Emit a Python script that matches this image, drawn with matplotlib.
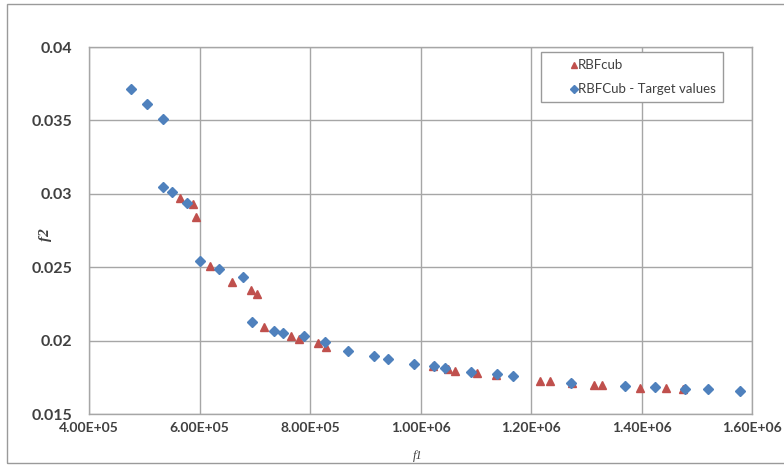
import matplotlib
matplotlib.use("Agg")
import matplotlib.pyplot as plt
from matplotlib.ticker import FuncFormatter, MultipleLocator
from matplotlib.lines import Line2D

# RBFcub results (f1, f2)
rbf_f1 = [565e3, 588e3, 593e3, 619e3, 658e3, 693e3, 704e3, 717e3, 765e3, 780e3,
          814e3, 829e3, 1022e3, 1049e3, 1063e3, 1103e3, 1136e3, 1217e3, 1234e3,
          1275e3, 1314e3, 1328e3, 1398e3, 1445e3, 1476e3]
rbf_f2 = [0.02973, 0.02928, 0.02844, 0.02508, 0.02397, 0.02345, 0.02315, 0.02091,
          0.02031, 0.02011, 0.01982, 0.01958, 0.01824, 0.01804, 0.01793, 0.01777,
          0.01765, 0.01725, 0.01725, 0.0171, 0.01697, 0.01697, 0.0168, 0.01674, 0.0167]

# Target values (f1, f2)
target_f1 = [476e3, 505e3, 534e3, 534e3, 550e3, 578e3, 601e3, 635e3, 679e3, 695e3,
             735e3, 752e3, 790e3, 827e3, 869e3, 915e3, 941e3, 988e3, 1025e3,
             1045e3, 1092e3, 1139e3, 1168e3, 1273e3, 1370e3, 1424e3, 1479e3,
             1520e3, 1578e3]
target_f2 = [0.03714, 0.03614, 0.03507, 0.03048, 0.0301, 0.02935, 0.02542, 0.02486,
             0.02431, 0.02125, 0.02065, 0.02054, 0.02031, 0.01992, 0.01931, 0.01897,
             0.01873, 0.01839, 0.01829, 0.01813, 0.01784, 0.0177, 0.01759, 0.01713,
             0.01691, 0.01687, 0.01672, 0.01667, 0.0166]

RED = "#C0504D"
BLUE = "#4F81BD"
GRID = "#A6A6A6"
TXT = "#404040"

fig = plt.figure(figsize=(7.84, 4.65), dpi=100)
ax = fig.add_axes([89 / 784, 1 - 414 / 465, (752 - 89) / 784, (414 - 47) / 465])

# outer chart border
fig.add_artist(plt.Rectangle((7 / 784, 2 / 465), 1.0, 459 / 465, transform=fig.transFigure,
                             fill=False, edgecolor="#9A9A9A", linewidth=1.0))

ax.plot(rbf_f1, rbf_f2, linestyle="none", marker="^", markersize=6,
        color=RED, label="RBFcub", zorder=3)
ax.plot(target_f1, target_f2, linestyle="none", marker="D", markersize=5,
        color=BLUE, label="RBFCub - Target values", zorder=3)

ax.set_xlim(4e5, 1.6e6)
ax.set_ylim(0.015, 0.04)
ax.xaxis.set_major_locator(MultipleLocator(2e5))
ax.yaxis.set_major_locator(MultipleLocator(0.005))


def sci_fmt(v, pos):
    m, e = f"{v:.2E}".split("E")
    return f"{m}E{int(e):+03d}"


ax.xaxis.set_major_formatter(FuncFormatter(sci_fmt))
ax.yaxis.set_major_formatter(FuncFormatter(lambda v, pos: f"{v:g}"))

ax.grid(True, color=GRID, linewidth=1.0)
ax.set_axisbelow(True)
for s in ax.spines.values():
    s.set_color(GRID)
    s.set_linewidth(1.0)

ax.tick_params(axis="both", length=0, labelcolor=TXT)
ax.tick_params(axis="y", pad=12, labelsize=11.5)
ax.tick_params(axis="x", pad=6, labelsize=10)
for lab in ax.get_xticklabels() + ax.get_yticklabels():
    lab.set_fontfamily("Lato")
    lab.set_fontweight("bold")

fig.text(418 / 784, 1 - 456 / 465, "f1", ha="center", va="center",
         fontfamily="Liberation Serif", fontstyle="italic", fontsize=9, color=TXT)
fig.text(45 / 784, 1 - 235 / 465, "f2", ha="center", va="center", rotation=90,
         fontfamily="Liberation Serif", fontstyle="italic", fontweight="bold",
         fontsize=11, color=TXT)

handles = [
    Line2D([], [], linestyle="none", marker="^", markersize=5, color=RED),
    Line2D([], [], linestyle="none", marker="D", markersize=4, color=BLUE),
]
leg = ax.legend(handles, ["RBFcub", "RBFCub - Target values"],
                loc="upper left", bbox_to_anchor=((541 - 89) / 663, (414 - 52) / 367),
                prop={"family": "Lato", "size": 9.5}, fancybox=False,
                edgecolor="#9A9A9A", framealpha=1, handletextpad=-1.62,
                borderpad=0.55, labelspacing=0.9, handlelength=3.85, borderaxespad=0)
for t in leg.get_texts():
    t.set_color(TXT)
leg.get_frame().set_linewidth(1.0)

fig.savefig("out.png", dpi=100)
